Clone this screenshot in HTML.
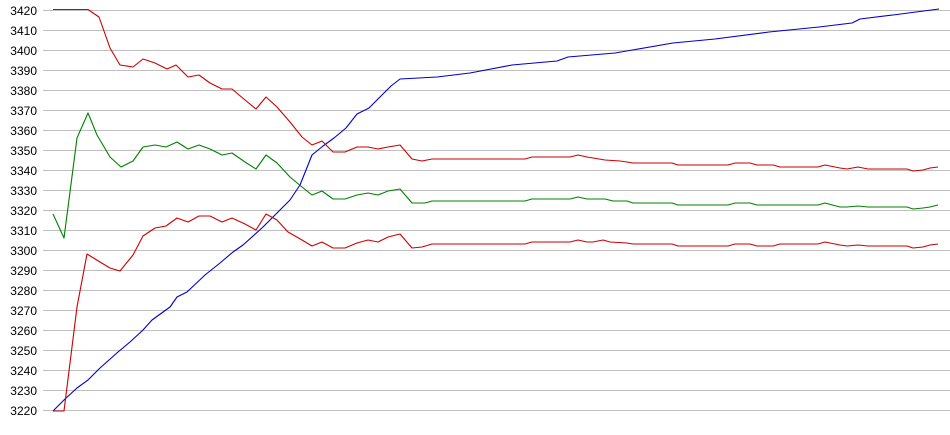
<!DOCTYPE html>
<html><head><meta charset="utf-8"><style>
html,body{margin:0;padding:0;background:#fff;}
svg{display:block;}
text{font-family:"Liberation Sans",Arial,sans-serif;font-size:12px;fill:#000;}
</style></head><body>
<svg width="950" height="435" viewBox="0 0 950 435" xmlns="http://www.w3.org/2000/svg">
<g stroke="#c0c0c0" stroke-width="1" id="grid"></g>
<g id="labels" text-anchor="end"></g>
<g fill="none" stroke-width="1.1" stroke-linejoin="round">
<polyline stroke="#0000cc" points="53,411 65,399 77,388 88,380 100,368 118,352 130,342 143,330 152,320 170,307 177,297 187,292 205,275 220,263 233,252 243,245 263,227 280,210 290,200 300,185 312,155 323,146 334,138 346,128 357,114 369,108 380,97 391,86 400,79 437,77 470,73 512,65 557,61 568,57 615,53 673,43 715,39 769,32 819,27 852,23 860,19 893,15 939,9"/>
<polyline stroke="#cc0000" points="53,9.5 88,9.5 99,17 110,48 120,65 133,67 143,59 155,63 167,69 176,65 188,77 199,75 210,83 222,89 232,89 245,100 256,109 266,97 277,107 290,122 302,137 312,145 322,141 333,152 345,152 357,147 368,147 378,149 388,147 400,145 412,159 422,161 432,159 525,159 532,157 570,157 578,155 587,157 605,160 620,161 627,162 633,163 672,163 678,165 728,165 735,163 750,163 757,165 773,165 780,167 818,167 825,165 840,168 847,169 858,167 868,169 907,169 913,171 923,170 930,168 938,167"/>
<polyline stroke="#008000" points="53,214 64,238 77,138 88,113 97,135 110,157 121,167 133,161 143,147 155,145 166,147 177,142 188,149 199,145 210,149 222,155 232,153 245,162 256,169 266,155 277,163 290,177 302,187 312,195 322,191 333,199 345,199 357,195 368,193 378,195 388,191 400,189 412,203 425,203 432,201 525,201 532,199 570,199 578,197 587,199 605,199 613,201 627,201 633,203 672,203 678,205 728,205 735,203 750,203 757,205 818,205 825,203 840,207 847,207 858,206 868,207 907,207 913,209 923,208 930,207 938,205"/>
<polyline stroke="#cc0000" points="53,411 64,411 77,307 87,254 100,262 110,268 120,271 133,255 143,236 155,228 166,226 177,218 188,222 199,216 210,216 222,222 232,218 245,224 256,230 266,214 277,220 288,232 302,240 312,246 322,242 333,248 345,248 357,243 368,240 378,242 388,237 400,234 412,248 422,247 432,244 525,244 532,242 570,242 578,240 587,242 593,242 603,240 610,242 627,243 633,244 672,244 678,246 728,246 735,244 750,244 757,246 773,246 780,244 818,244 825,242 840,245 847,246 858,245 868,246 907,246 913,248 923,247 930,245 938,244"/>
</g>
<script>
var g=document.getElementById('grid'),l=document.getElementById('labels'),ns='http://www.w3.org/2000/svg';
for(var k=0;k<=20;k++){var y=10+20*k+0.5;var ln=document.createElementNS(ns,'line');ln.setAttribute('x1',43);ln.setAttribute('x2',950);ln.setAttribute('y1',y);ln.setAttribute('y2',y);g.appendChild(ln);
var t=document.createElementNS(ns,'text');t.setAttribute('x',37);t.setAttribute('y',y+4.5);t.textContent=3420-10*k;l.appendChild(t);}
</script>
</svg>
</body></html>
